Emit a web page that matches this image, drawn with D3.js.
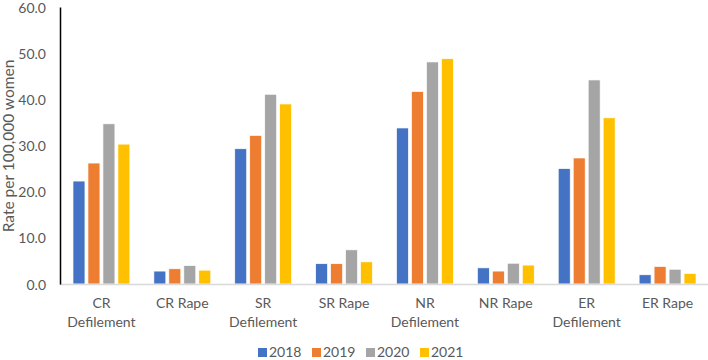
<!DOCTYPE html>
<html>
<head>
<meta charset="utf-8">
<script src="https://cdn.jsdelivr.net/npm/d3@7"></script>
<style>
  body { margin: 0; background: #fff; }
  svg text { font-family: Lato, "Open Sans", sans-serif; fill: #595959; }
</style>
</head>
<body>
<script>
// categories (label lines)
var categories = ["CR Defilement", "CR Rape", "SR Defilement", "SR Rape",
                  "NR Defilement", "NR Rape", "ER Defilement", "ER Rape"];
var years = ["2018", "2019", "2020", "2021"];

// rate per 100,000 women, one array per year
var v2018 = [22.3, 2.8, 29.3, 4.4, 33.8, 3.5, 25.0, 2.0];
var v2019 = [26.2, 3.3, 32.2, 4.4, 41.7, 2.8, 27.3, 3.8];
var v2020 = [34.7, 4.0, 41.1, 7.4, 48.1, 4.5, 44.2, 3.2];
var v2021 = [30.3, 3.0, 39.0, 4.8, 48.8, 4.1, 36.0, 2.3];
var series = [v2018, v2019, v2020, v2021];

var yTicks = [0, 10, 20, 30, 40, 50, 60];
var colors = ["#4472C4", "#ED7D31", "#A5A5A5", "#FFC000"];

var width = 708, height = 360;
var svg = d3.select("body").append("svg").attr("width", width).attr("height", height);

var x0 = d3.scaleBand().domain(categories).range([61, 708]).padding(0);
var x1 = d3.scaleBand().domain(years).range([0, x0.bandwidth()])
    .paddingInner(0.2).paddingOuter(0.8);
var y = d3.scaleLinear().domain([0, 60]).range([284, 7]);

// bars
categories.forEach(function(c, i){
    var g = svg.append("g").attr("transform", "translate(" + x0(c) + ",0)");
    g.selectAll("rect")
        .data(years)
        .enter().append("rect")
        .attr("x", function(d){ return x1(d); })
        .attr("y", function(d, j){ return y(series[j][i]); })
        .attr("width", x1.bandwidth())
        .attr("height", function(d, j){ return y(0) - y(series[j][i]); })
        .style("fill", function(d, j){ return colors[j]; })
        .style("stroke", "#fff")
        .style("stroke-width", 0.7);
});

// x axis line
svg.append("line")
    .attr("x1", 60).attr("x2", 708)
    .attr("y1", y(0) + 0.5).attr("y2", y(0) + 0.5)
    .style("stroke", "#d9d9d9").style("stroke-width", 1.5);

// y axis
var yAxis = d3.axisLeft(y).tickValues(yTicks).tickSize(0).tickPadding(14)
    .tickFormat(d3.format(".1f"));
var ya = svg.append("g").attr("transform", "translate(60,0)").call(yAxis);
ya.select(".domain").style("stroke", "#000").style("stroke-width", 1.5);
ya.selectAll("text").style("font-size", "14px").style("font-family", "Lato, sans-serif")
    .attr("fill", "#595959").attr("dy", "0.36em");

// category labels
categories.forEach(function(c){
    var words = c.split(" ");
    var lines = words[1] === "Defilement" ? [words[0], words[1]] : [c];
    var t = svg.append("text")
        .attr("text-anchor", "middle")
        .style("font-size", "14px");
    lines.forEach(function(l, k){
        t.append("tspan")
            .attr("x", x0(c) + x0.bandwidth() / 2)
            .attr("y", 308 + k * 19)
            .text(l);
    });
});

// y label
svg.append("text")
    .attr("transform", "translate(14,146) rotate(-90)")
    .attr("text-anchor", "middle")
    .style("font-size", "15.5px")
    .text("Rate per 100,000 women");

// legend
var legend = svg.append("g").attr("transform", "translate(258,0)");
years.forEach(function(yr, i){
    var lg = legend.append("g").attr("transform", "translate(" + (i * 54) + ",0)");
    lg.append("rect").attr("x", 0).attr("y", 348).attr("width", 9).attr("height", 9)
        .style("fill", colors[i]);
    lg.append("text").attr("x", 11).attr("y", 357).style("font-size", "14px").text(yr);
});
</script>
</body>
</html>
